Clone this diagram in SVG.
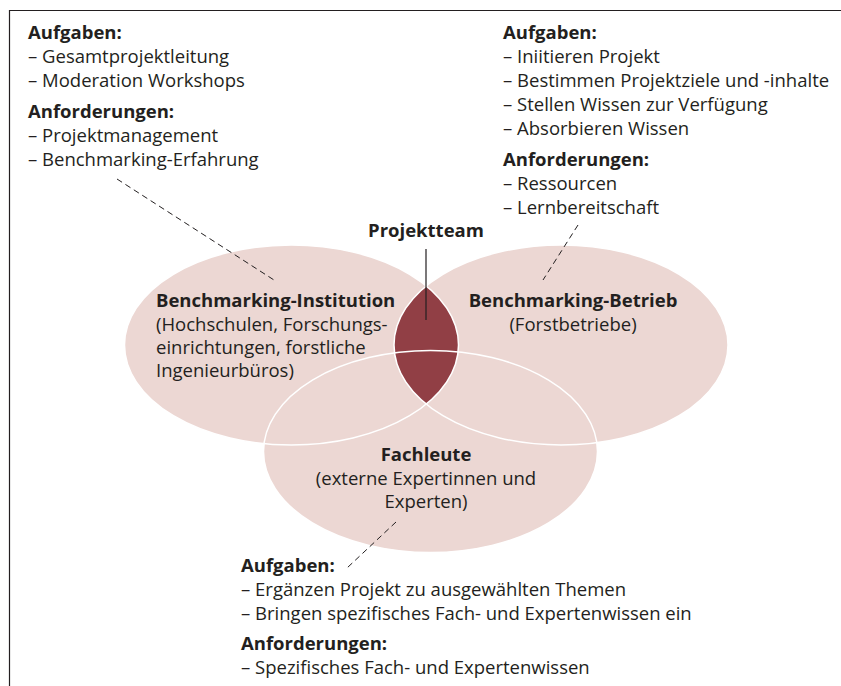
<svg xmlns="http://www.w3.org/2000/svg" width="841" height="686" viewBox="0 0 841 686">
<style>
text{font-family:"Open Sans","Noto Sans","Liberation Sans",sans-serif;font-size:18.5px;fill:#231f20}
.b{font-weight:bold}
.m{text-anchor:middle}
.dash{stroke:#231f20;stroke-width:1;stroke-dasharray:6,4;fill:none}
.fill{fill:#ecd7d3}
.edge{fill:none;stroke:#ffffff;stroke-width:1.5}
</style>
<defs>
<clipPath id="clipLeft"><ellipse cx="291.5" cy="345" rx="167" ry="100"/></clipPath>
</defs>
<rect width="841" height="686" fill="#ffffff"/>
<path d="M9.5,686 V10.5 H841" fill="none" stroke="#231f20" stroke-width="1.2"/>
<g id="ellipses">
<ellipse class="fill" cx="291.5" cy="345" rx="167" ry="100"/>
<ellipse class="fill" cx="561" cy="345" rx="167" ry="100"/>
<ellipse class="fill" cx="430.5" cy="451.5" rx="167" ry="101"/>
<ellipse cx="561" cy="345" rx="167" ry="100" fill="#913f45" clip-path="url(#clipLeft)"/>
<ellipse class="edge" cx="291.5" cy="345" rx="167" ry="100"/>
<ellipse class="edge" cx="561" cy="345" rx="167" ry="100"/>
<ellipse class="edge" cx="430.5" cy="451.5" rx="167" ry="101"/>
</g>
<g id="connectors">
<line class="dash" x1="117" y1="179" x2="274" y2="280"/>
<line class="dash" x1="578" y1="225" x2="543" y2="280"/>
<line class="dash" x1="396" y1="522" x2="347" y2="568"/>
<line x1="426" y1="249" x2="426" y2="320" stroke="#231f20" stroke-width="1.2"/>
</g>
<g id="institution">
<text class="b" x="156" y="307">Benchmarking-Institution</text>
<text x="156" y="331">(Hochschulen, Forschungs-</text>
<text x="156" y="354">einrichtungen, forstliche</text>
<text x="156" y="377">Ingenieurbüros)</text>
</g>
<g id="betrieb">
<text class="b m" x="573" y="307">Benchmarking-Betrieb</text>
<text class="m" x="573" y="331">(Forstbetriebe)</text>
</g>
<g id="fachleute">
<text class="b m" x="426" y="461">Fachleute</text>
<text class="m" x="426" y="485">(externe Expertinnen und</text>
<text class="m" x="426" y="508">Experten)</text>
</g>
<g id="projektteam">
<text class="b m" x="426" y="237">Projektteam</text>
</g>
<g id="text-institution">
<text class="b" x="28" y="39">Aufgaben:</text>
<text x="28" y="63">– Gesamtprojektleitung</text>
<text x="28" y="87">– Moderation Workshops</text>
<text class="b" x="28" y="118">Anforderungen:</text>
<text x="28" y="142">– Projektmanagement</text>
<text x="28" y="166">– Benchmarking-Erfahrung</text>
</g>
<g id="text-betrieb">
<text class="b" x="503" y="39">Aufgaben:</text>
<text x="503" y="63">– Iniitieren Projekt</text>
<text x="503" y="87">– Bestimmen Projektziele und -inhalte</text>
<text x="503" y="111">– Stellen Wissen zur Verfügung</text>
<text x="503" y="135">– Absorbieren Wissen</text>
<text class="b" x="503" y="166">Anforderungen:</text>
<text x="503" y="190">– Ressourcen</text>
<text x="503" y="214">– Lernbereitschaft</text>
</g>
<g id="text-fachleute">
<text class="b" x="241" y="572">Aufgaben:</text>
<text x="241" y="596">– Ergänzen Projekt zu ausgewählten Themen</text>
<text x="241" y="620">– Bringen spezifisches Fach- und Expertenwissen ein</text>
<text class="b" x="241" y="650">Anforderungen:</text>
<text x="241" y="674">– Spezifisches Fach- und Expertenwissen</text>
</g>
</svg>
